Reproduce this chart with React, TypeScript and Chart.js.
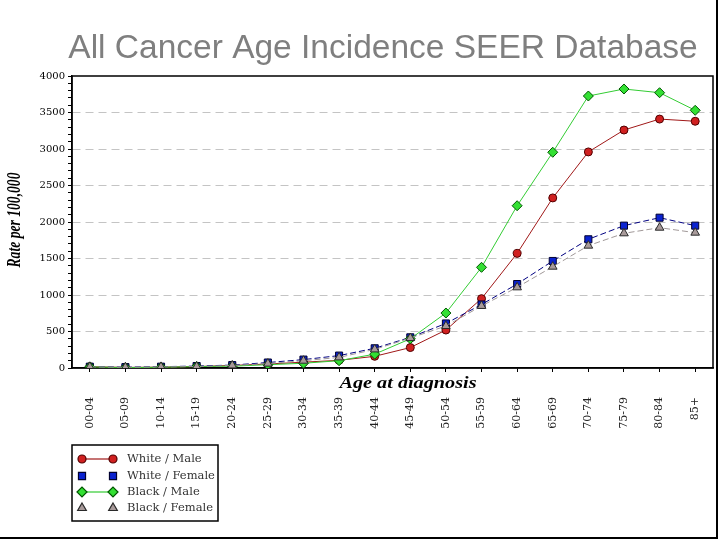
import { useEffect, useRef } from 'react';
import { Chart, registerables } from 'chart.js';
import { drawPoint } from 'chart.js/helpers';

Chart.register(...registerables);

const TITLE = 'All Cancer Age Incidence SEER Database';
const X_TITLE = 'Age at diagnosis';
const Y_TITLE = 'Rate per 100,000';

const categories = ['00-04', '05-09', '10-14', '15-19', '20-24', '25-29', '30-34', '35-39', '40-44', '45-49', '50-54', '55-59', '60-64', '65-69', '70-74', '75-79', '80-84', '85+'];

const seriesNames = ['White / Male', 'White / Female', 'Black / Male', 'Black / Female'];

const whiteMale = [18, 8, 12, 20, 35, 55, 80, 105, 160, 280, 520, 950, 1570, 2330, 2960, 3260, 3410, 3380];
const whiteFemale = [18, 12, 18, 27, 40, 75, 115, 170, 270, 420, 610, 870, 1150, 1466, 1763, 1950, 2059, 1950];
const blackMale = [15, 5, 10, 20, 25, 45, 65, 100, 190, 400, 753, 1379, 2223, 2955, 3726, 3822, 3771, 3530];
const blackFemale = [15, 10, 15, 20, 35, 60, 100, 145, 255, 410, 575, 850, 1105, 1388, 1676, 1845, 1922, 1854];

const yMax = 4000;
const yMajorStep = 500;
const yMinorStep = 100;

const seriesStyles = [
  { line: '#a01818', fill: '#d02020', border: '#500000', point: 'circle', radius: 4, dash: [] as number[], legendLine: true, order: 3 },
  { line: '#000080', fill: '#0a22d0', border: '#000030', point: 'rect', radius: 5, dash: [6, 3], legendLine: false, order: 2 },
  { line: '#33cc33', fill: '#33e033', border: '#005500', point: 'rectRot', radius: 5, dash: [] as number[], legendLine: true, order: 1 },
  { line: '#a09898', fill: '#a89a9a', border: '#2a2a2a', point: 'triangle', radius: 5, dash: [6, 3], legendLine: false, order: 0 },
];

const seriesData = [whiteMale, whiteFemale, blackMale, blackFemale];

const decorPlugin = {
  id: 'decor',
  beforeDatasetsDraw(chart: any) {
    const { ctx, chartArea } = chart;
    ctx.save();
    ctx.strokeStyle = '#000';
    ctx.lineWidth = 1.5;
    ctx.strokeRect(chartArea.left, chartArea.top, chartArea.right - chartArea.left, chartArea.bottom - chartArea.top);
    ctx.restore();
  },
  afterDraw(chart: any) {
    const { ctx } = chart;
    ctx.save();
    // main title
    ctx.fillStyle = '#7f7f7f';
    ctx.font = '33.5px "Liberation Sans", Arial, sans-serif';
    ctx.textAlign = 'center';
    ctx.textBaseline = 'alphabetic';
    ctx.fillText(TITLE, 383, 58);

    // x title
    ctx.fillStyle = '#000';
    ctx.font = 'italic bold 17px "Liberation Serif", serif';
    ctx.textBaseline = 'middle';
    const xw = ctx.measureText(X_TITLE).width;
    ctx.save();
    ctx.translate(408, 384);
    ctx.scale(137 / xw, 1);
    ctx.fillText(X_TITLE, 0, 0);
    ctx.restore();

    // y title
    ctx.font = 'italic bold 19px "Liberation Serif", serif';
    const yw = ctx.measureText(Y_TITLE).width;
    ctx.save();
    ctx.translate(15, 220);
    ctx.rotate(-Math.PI / 2);
    ctx.scale(95 / yw, 1);
    ctx.fillText(Y_TITLE, 0, 0);
    ctx.restore();

    // legend
    const bx = 72, by = 445, bw = 146, bh = 76;
    ctx.fillStyle = '#fff';
    ctx.fillRect(bx, by, bw, bh);
    ctx.strokeStyle = '#000';
    ctx.lineWidth = 1.5;
    ctx.strokeRect(bx, by, bw, bh);
    const rows = [459, 476, 492, 508];
    ctx.font = '11.5px "DejaVu Serif", serif';
    ctx.textAlign = 'left';
    ctx.textBaseline = 'middle';
    seriesNames.forEach((name, i) => {
      const s = seriesStyles[i];
      const y = rows[i];
      if (s.legendLine) {
        ctx.strokeStyle = s.line;
        ctx.lineWidth = 1.2;
        ctx.beginPath();
        ctx.moveTo(82, y);
        ctx.lineTo(113, y);
        ctx.stroke();
      }
      ctx.fillStyle = s.fill;
      ctx.strokeStyle = s.border;
      [82, 113].forEach((px) => {
        drawPoint(ctx, { pointStyle: s.point, rotation: 0, radius: s.radius, borderWidth: 1 } as any, px, y);
      });
      ctx.fillStyle = '#333';
      ctx.fillText(name, 127, y);
    });

    // page border
    ctx.strokeStyle = '#000';
    ctx.lineWidth = 2;
    ctx.beginPath();
    ctx.moveTo(717, 0);
    ctx.lineTo(717, 538);
    ctx.lineTo(0, 538);
    ctx.stroke();
    ctx.restore();
  },
};

export default function App() {
  const canvasRef = useRef<HTMLCanvasElement | null>(null);

  useEffect(() => {
    document.body.style.margin = '0';
    const canvas = canvasRef.current;
    if (!canvas) return;
    const chart = new Chart(canvas, {
      type: 'line',
      data: {
        labels: categories,
        datasets: seriesNames.map((name, i) => {
          const s = seriesStyles[i];
          return {
            label: name,
            data: seriesData[i],
            borderColor: s.line,
            backgroundColor: s.fill,
            pointBackgroundColor: s.fill,
            pointBorderColor: s.border,
            pointBorderWidth: 1,
            pointStyle: s.point as any,
            pointRadius: s.radius,
            borderWidth: 1,
            borderDash: s.dash,
            tension: 0,
            fill: false,
            order: s.order,
          };
        }),
      },
      options: {
        animation: false,
        responsive: false,
        devicePixelRatio: 1,
        layout: { padding: { left: 0, top: 76, right: 7, bottom: 0 } },
        plugins: {
          legend: { display: false },
          tooltip: { enabled: false },
          title: { display: false },
        },
        scales: {
          x: {
            type: 'category',
            offset: true,
            grid: { drawOnChartArea: false, drawTicks: true, tickLength: 4, tickColor: '#000', offset: false },
            border: { display: true, color: '#000', width: 1.5 },
            ticks: {
              autoSkip: false,
              maxRotation: 90,
              minRotation: 90,
              padding: 25,
              color: '#222',
              font: { family: '"DejaVu Serif", serif', size: 11 },
            },
            afterFit: (s: any) => { s.height = 172; s.paddingLeft = 0; s.paddingRight = 0; },
          },
          y: {
            min: 0,
            max: yMax,
            ticks: {
              stepSize: yMinorStep,
              autoSkip: false,
              padding: 3,
              color: '#000',
              font: { family: '"DejaVu Serif", serif', size: 10 },
              callback: (v: any) => (Number(v) % yMajorStep === 0 ? String(v) : ''),
            },
            grid: {
              color: (c: any) => {
                const v = c.tick ? c.tick.value : -1;
                return v % yMajorStep === 0 && v > 0 && v < yMax ? '#c4c4c4' : 'rgba(0,0,0,0)';
              },
              tickColor: '#000',
              tickLength: 4,
              lineWidth: 1,
            },
            border: { display: true, color: '#000', width: 1.5, dash: [8, 5] },
            afterFit: (s: any) => { s.width = 72; s.paddingTop = 0; s.paddingBottom = 0; },
          },
        },
      },
      plugins: [decorPlugin],
    });
    return () => chart.destroy();
  }, []);

  return (
    <div style={{ position: 'absolute', left: 0, top: 0, width: 720, height: 540, background: '#fff' }}>
      <canvas ref={canvasRef} width={720} height={540} style={{ width: 720, height: 540, display: 'block' }} />
    </div>
  );
}
